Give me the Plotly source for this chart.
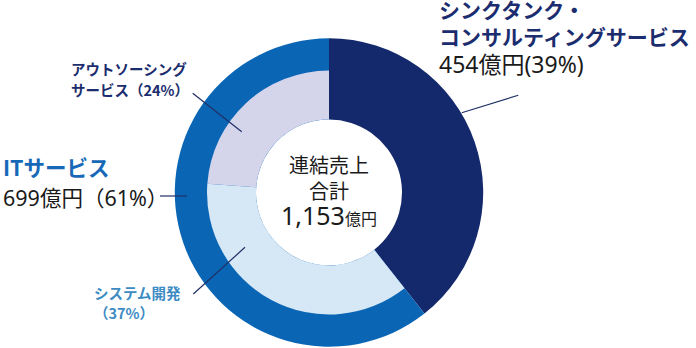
import plotly.graph_objects as go

W, H = 696, 348

# Revenue breakdown (億円)
segments = ["シンクタンク・コンサルティングサービス", "ITサービス"]
segment_values = [454, 699]
it_parts = ["システム開発", "アウトソーシングサービス"]
it_part_values = [424, 275]
total_label = "1,153"

NAVY = "#14296b"
BLUE = "#0a66b5"
LAVENDER = "#d4d4eb"
PALE_BLUE = "#d6e7f5"

CX, CY = 329, 192.5          # ring centre (px from top-left)
R_OUT, R_MID, R_HOLE = 154.2, 122, 73

FONT = "Noto Sans, Noto Sans CJK JP"
FONT_BOLD = "Noto Sans CJK JP"


def px_x(x):
    return x / W


def px_y(y):
    return 1 - y / H


def domain(r):
    return dict(x=[px_x(CX - r), px_x(CX + r)],
                y=[px_y(CY + r), px_y(CY - r)])


fig = go.Figure()

# Outer ring: the two business segments, full thickness
fig.add_trace(go.Pie(
    labels=segments, values=segment_values,
    marker=dict(colors=[NAVY, BLUE], line=dict(width=0)),
    hole=R_HOLE / R_OUT, sort=False, direction="clockwise", rotation=0,
    textinfo="none", hoverinfo="label+value", domain=domain(R_OUT),
    showlegend=False,
))

# Inner ring: split of the IT segment (consulting share left transparent)
fig.add_trace(go.Pie(
    labels=[segments[0]] + it_parts,
    values=[segment_values[0]] + it_part_values,
    marker=dict(colors=["rgba(0,0,0,0)", PALE_BLUE, LAVENDER], line=dict(width=0)),
    hole=R_HOLE / R_MID, sort=False, direction="clockwise", rotation=0,
    textinfo="none", hoverinfo="label+value", domain=domain(R_MID),
    showlegend=False,
))


def label(text, x, y, size, color, anchor="left", yanchor="middle",
          bold=False, family=FONT):
    if bold:
        text = f"<b>{text}</b>"
        family = FONT_BOLD
    fig.add_annotation(
        text=text, x=px_x(x), y=px_y(y), xref="paper", yref="paper",
        xanchor=anchor, yanchor=yanchor, showarrow=False, align=anchor,
        borderpad=0,
        font=dict(family=family, size=size, color=color),
    )


def leader(x0, y0, x1, y1):
    fig.add_shape(type="line", xref="paper", yref="paper",
                  x0=px_x(x0), y0=px_y(y0), x1=px_x(x1), y1=px_y(y1),
                  line=dict(color="#1f2f66", width=1.2))


# Consulting segment
label("<b>シンクタンク・</b><br><b>コンサルティングサービス</b><br>"
      f"<span style='font-size:23px;color:#1a1a1a;font-family:Noto Sans, Noto Sans CJK JP'>"
      f"{segment_values[0]}億円(39%)</span>",
      438, -7, 21, "#1b2d6e", yanchor="top", family=FONT_BOLD)
leader(461.7, 112.7, 518.3, 95.3)

# IT segment
label("ITサービス", 2, 167, 21.5, "#1769b8", bold=True)
label(f"{segment_values[1]}億円（61%）", 2, 197, 21.5, "#1a1a1a")
leader(160, 196, 187, 196)

# IT breakdown
label("アウトソーシング", 70, 68.5, 14.5, "#1b2d6e", bold=True)
label("サービス（24%）", 70, 89.5, 14.5, "#1b2d6e", bold=True)
leader(192.7, 93.3, 241.7, 131.7)

label("システム開発", 93, 292.5, 14.5, "#3d8bc3", bold=True)
label("（37%）", 93, 312.5, 14.5, "#3d8bc3", bold=True)
leader(193.3, 294, 245, 247.3)

# Centre total
label("連結売上<br>合計<br><span style='font-size:25px'>" + total_label
      + "</span><span style='font-size:16px'>億円</span>",
      CX, 192, 20, "#1a1a1a", anchor="center")

fig.update_layout(
    width=W, height=H, margin=dict(l=0, r=0, t=0, b=0),
    paper_bgcolor="white", plot_bgcolor="white",
)

fig.write_html("out.html")
